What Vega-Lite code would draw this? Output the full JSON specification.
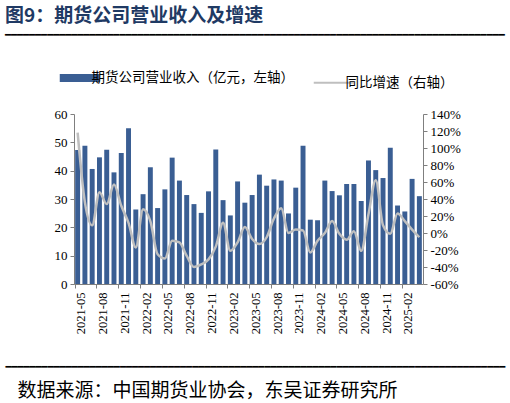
{
  "$schema": "https://vega.github.io/schema/vega-lite/v6.json",
  "padding": {"left": 5, "right": 5, "top": 7, "bottom": 1},
  "width": 349,
  "height": 170,
  "title": {
    "text": "\u2004\u2004图9：期货公司营业收入及增速",
    "subtitle": "━━━━━━━━━━━━━━━━━━━━━━━━━━━━━━━━━━━━━━━━━━━━━━━━━━━━━━━━━━━━━━━━━━━━━━━━━━━━━━━━━━━",
    "anchor": "start",
    "offset": 31,
    "font": "Noto Sans CJK SC",
    "fontSize": 19,
    "fontWeight": "bold",
    "color": "#1F3A64",
    "subtitleFont": "DejaVu Sans Mono",
    "subtitleFontSize": 10,
    "subtitleColor": "#000000",
    "subtitlePadding": 4
  },
  "config": {
    "background": "#ffffff",
    "view": {"stroke": null},
    "font": "Noto Sans CJK SC"
  },
  "data": {
    "values": [
      {"month": "2021-05", "revenue": 47.3, "yoy": 118},
      {"month": "2021-06", "revenue": 48.8, "yoy": 36},
      {"month": "2021-07", "revenue": 40.6, "yoy": 9},
      {"month": "2021-08", "revenue": 44.7, "yoy": 48},
      {"month": "2021-09", "revenue": 47.4, "yoy": 34},
      {"month": "2021-10", "revenue": 39.4, "yoy": 57},
      {"month": "2021-11", "revenue": 46.2, "yoy": 32},
      {"month": "2021-12", "revenue": 55.0, "yoy": 12},
      {"month": "2022-01", "revenue": 26.3, "yoy": -17},
      {"month": "2022-02", "revenue": 31.7, "yoy": 28},
      {"month": "2022-03", "revenue": 41.2, "yoy": 14},
      {"month": "2022-04", "revenue": 26.8, "yoy": -25},
      {"month": "2022-05", "revenue": 33.4, "yoy": -30},
      {"month": "2022-06", "revenue": 44.6, "yoy": -9},
      {"month": "2022-07", "revenue": 36.5, "yoy": -11},
      {"month": "2022-08", "revenue": 31.4, "yoy": -27},
      {"month": "2022-09", "revenue": 28.2, "yoy": -40},
      {"month": "2022-10", "revenue": 25.1, "yoy": -37},
      {"month": "2022-11", "revenue": 32.7, "yoy": -31},
      {"month": "2022-12", "revenue": 47.5, "yoy": -16},
      {"month": "2023-01", "revenue": 29.6, "yoy": 12},
      {"month": "2023-02", "revenue": 24.2, "yoy": -21},
      {"month": "2023-03", "revenue": 36.2, "yoy": -11},
      {"month": "2023-04", "revenue": 28.7, "yoy": 7},
      {"month": "2023-05", "revenue": 31.4, "yoy": -7},
      {"month": "2023-06", "revenue": 38.6, "yoy": -13},
      {"month": "2023-07", "revenue": 34.7, "yoy": -5},
      {"month": "2023-08", "revenue": 36.9, "yoy": 17},
      {"month": "2023-09", "revenue": 36.5, "yoy": 29},
      {"month": "2023-10", "revenue": 24.9, "yoy": 0},
      {"month": "2023-11", "revenue": 34.0, "yoy": 4},
      {"month": "2023-12", "revenue": 48.8, "yoy": 3},
      {"month": "2024-01", "revenue": 22.7, "yoy": -23},
      {"month": "2024-02", "revenue": 22.5, "yoy": -9},
      {"month": "2024-03", "revenue": 36.5, "yoy": 0},
      {"month": "2024-04", "revenue": 32.8, "yoy": 14},
      {"month": "2024-05", "revenue": 31.3, "yoy": -1},
      {"month": "2024-06", "revenue": 35.3, "yoy": -8},
      {"month": "2024-07", "revenue": 35.3, "yoy": 2},
      {"month": "2024-08", "revenue": 29.3, "yoy": -21},
      {"month": "2024-09", "revenue": 43.6, "yoy": 22},
      {"month": "2024-10", "revenue": 40.2, "yoy": 62},
      {"month": "2024-11", "revenue": 37.4, "yoy": 9},
      {"month": "2024-12", "revenue": 48.1, "yoy": -1},
      {"month": "2025-01", "revenue": 27.7, "yoy": 23},
      {"month": "2025-02", "revenue": 25.6, "yoy": 14},
      {"month": "2025-03", "revenue": 37.1, "yoy": 4},
      {"month": "2025-04", "revenue": 31.0, "yoy": -5}
    ]
  },
  "encoding": {
    "x": {
      "field": "month",
      "type": "ordinal",
      "sort": null,
      "scale": {"paddingInner": 0.32, "paddingOuter": 0.16},
      "axis": {
        "title": "━━━━━━━━━━━━━━━━━━━━━━━━━━━━━━━━━━━━━━━━━━━━━━━━━━━━━━━━━━━━━━━━━━━━━━━━━━━━━━━━━━━",
        "titleFont": "DejaVu Sans Mono",
        "titleFontSize": 10,
        "titleFontWeight": "normal",
        "titleColor": "#000000",
        "titleAnchor": "start",
        "titleAlign": "left",
        "titleX": -69,
        "titlePadding": 28,
        "values": ["2021-05", "2021-08", "2021-11", "2022-02", "2022-05", "2022-08", "2022-11", "2023-02", "2023-05", "2023-08", "2023-11", "2024-02", "2024-05", "2024-08", "2024-11", "2025-02"],
        "bandPosition": 0,
        "labelOffset": 3.6,
        "labelAngle": 270,
        "labelFont": "Liberation Serif",
        "labelFontSize": 12.5,
        "labelColor": "#000000",
        "labelPadding": 4,
        "tickSize": 4,
        "tickColor": "#7F7F7F",
        "domainColor": "#7F7F7F",
        "grid": false
      }
    }
  },
  "layer": [
    {
      "mark": {"type": "bar"},
      "encoding": {
        "y": {
          "field": "revenue",
          "type": "quantitative",
          "scale": {"domain": [0, 60], "nice": false},
          "axis": {
            "title": "数据来源：中国期货业协会，东吴证券研究所",
            "titleFont": "Noto Sans CJK SC",
            "titleFontSize": 19,
            "titleFontWeight": "normal",
            "titleColor": "#000000",
            "titleAngle": 0,
            "titleAlign": "left",
            "titleBaseline": "middle",
            "titleX": -57,
            "titleY": 276,
            "orient": "left",
            "values": [0, 10, 20, 30, 40, 50, 60],
            "labelFont": "Liberation Serif",
            "labelFontSize": 13,
            "labelColor": "#000000",
            "tickSize": 4,
            "tickColor": "#7F7F7F",
            "domainColor": "#7F7F7F",
            "labelPadding": 3,
            "grid": false
          }
        },
        "color": {
          "datum": "期货公司营业收入（亿元，左轴）",
          "scale": {
            "domain": ["期货公司营业收入（亿元，左轴）", "同比增速（右轴）"],
            "range": ["#3A5E93", "#BFBFBF"]
          },
          "legend": {
            "orient": "none",
            "legendX": -1,
            "legendY": -43,
            "direction": "horizontal",
            "title": null,
            "symbolType": "stroke",
            "symbolSize": 1600,
            "symbolStrokeWidth": 8,
            "labelFont": "Noto Sans CJK SC",
            "labelFontSize": 13.5,
            "labelColor": "#000000",
            "labelLimit": 400,
            "labelOffset": 5,
            "columnPadding": 15,
            "padding": 0,
            "encode": {
              "symbols": {
                "update": {
                  "stroke": {"scale": "color", "field": "value"},
                  "strokeWidth": {"signal": "datum.value === '同比增速（右轴）' ? 2 : 8"}
                }
              }
            }
          }
        }
      }
    },
    {
      "mark": {"type": "line", "interpolate": "monotone", "strokeWidth": 2.5},
      "encoding": {
        "y": {
          "field": "yoy",
          "type": "quantitative",
          "scale": {"domain": [-60, 140], "nice": false},
          "axis": {
            "title": null,
            "orient": "right",
            "values": [-60, -40, -20, 0, 20, 40, 60, 80, 100, 120, 140],
            "labelExpr": "datum.value + '%'",
            "labelFont": "Liberation Serif",
            "labelFontSize": 13,
            "labelColor": "#000000",
            "tickSize": 4,
            "tickColor": "#7F7F7F",
            "domainColor": "#7F7F7F",
            "labelPadding": 3,
            "grid": false
          }
        },
        "color": {"datum": "同比增速（右轴）"}
      }
    }
  ],
  "resolve": {"scale": {"y": "independent"}}
}
